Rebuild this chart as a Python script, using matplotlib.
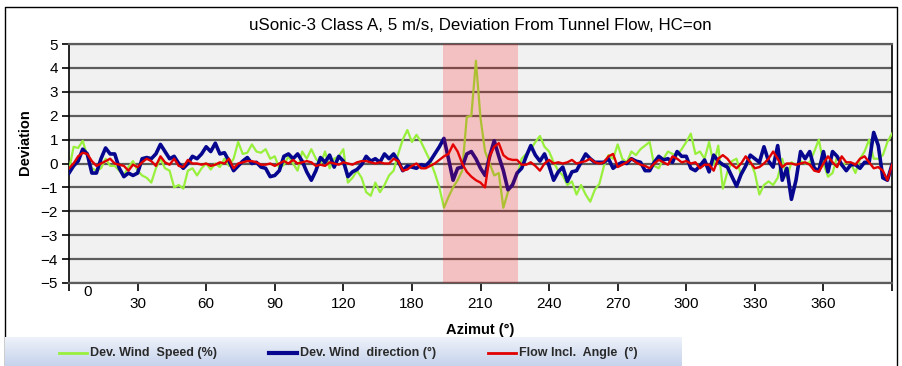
import numpy as np
import matplotlib.pyplot as plt
from matplotlib.lines import Line2D

plt.rcParams['font.family'] = ['Liberation Sans', 'DejaVu Sans']

# azimuth positions, one sample every 2 degrees
azimuth = list(range(0, 361, 2))

# Dev. Wind Speed (%)
wind_speed = [
    -0.3, 0.7, 0.65, 0.95, 0.3, -0.2, -0.3, -0.2, 0.2, -0.1, -0.1, -0.3, -0.5, -0.15, 0.1,
    -0.3, -0.5, -0.6, -0.8, -0.2, 0.2, -0.2, -0.3, -1.0, -0.9, -1.05, -0.3, -0.2, -0.5, -0.2,
    0.0, -0.25, 0.0, -0.15, 0.2, -0.1, 0.2, 0.9, 0.4, 0.45, 0.8, 0.5, 0.45, 0.6, 0.2,
    0.3, -0.2, -0.05, 0.3, 0.0, -0.3, 0.5, 0.2, 0.6, 0.2, -0.05, 0.5, -0.2, 0.2, 0.3,
    0.6, -0.8, -0.6, -0.3, -0.6, -1.2, -1.35, -0.8, -1.2, -0.9, -0.5, -0.3, 0.4, 1.0, 1.4,
    0.9, 1.2, 0.9, 0.5, 0.1, -0.4, -1.0, -1.85, -1.4, -1.0, -0.7, -0.3, 1.95, 2.0, 4.3,
    1.9, 0.5, 0.0, -0.5, -0.4, -1.85, -1.2, -0.8, -0.5, 0.2, 0.4, 0.6, 0.9, 1.15, 0.7,
    0.5, 0.05, -0.3, -0.5, -0.9, -0.75, -1.3, -0.9, -1.3, -1.6, -1.1, -0.85, -0.1, 0.35, 0.2,
    0.8, 0.2, 0.05, 0.5, 0.35, 0.6, 0.75, 0.9, -0.1, -0.2, 0.2, 0.5, 0.4, 0.35, 0.6,
    0.9, 1.25, 0.4, 0.5, 0.2, 0.9, -0.05, 0.75, -1.05, -0.35, 0.1, 0.2, -0.5, -0.1, 0.1,
    -0.4, -1.3, -0.9, -0.75, -0.9, -0.6, 0.2, -0.6, 0.05, -0.05, 0.1, 0.0, 0.05, 0.5, 1.0,
    0.0, -0.55, -0.4, 0.3, -0.1, 0.05, 0.0, -0.4, 0.2, 0.5, 1.0, 0.2, 0.2, 0.35, 0.9,
    1.25,
]

# Dev. Wind direction (deg)
wind_dir = [
    -0.4, -0.1, 0.1, 0.6, 0.4, -0.4, -0.4, 0.2, 0.65, 0.4, 0.4, -0.2, -0.55, -0.4, -0.5,
    -0.4, 0.2, 0.25, 0.2, 0.4, 0.8, 0.5, 0.2, 0.3, 0.0, -0.2, 0.0, 0.3, 0.2, 0.4,
    0.7, 0.5, 0.85, 0.4, 0.45, 0.1, -0.3, -0.1, 0.1, 0.25, 0.0, 0.05, -0.15, -0.2, -0.55,
    -0.5, -0.3, 0.3, 0.4, 0.2, 0.4, 0.1, -0.35, -0.7, -0.3, 0.25, 0.05, 0.35, -0.15, 0.3,
    0.1, -0.55, -0.35, -0.25, -0.05, 0.3, 0.1, 0.2, 0.05, 0.4, 0.2, 0.4, 0.1, -0.3, -0.1,
    -0.15, -0.2, -0.05, -0.1, 0.1, 0.4, 0.7, 1.05, 0.2, -0.7, -0.2, -0.15, 0.4, 0.5, 0.2,
    -0.2, -0.5, 0.3, 0.95, 0.3, -0.3, -1.1, -0.9, -0.4, -0.2, 0.3, 0.75, 0.35, 0.1, 0.4,
    -0.1, -0.7, -0.35, -0.15, -0.75, -0.35, -0.3, 0.05, 0.4, 0.2, 0.05, 0.05, 0.05, 0.2, -0.2,
    -0.05, 0.05, 0.0, 0.2, 0.1, 0.05, -0.3, -0.3, 0.05, 0.3, 0.15, 0.2, 0.05, 0.5, 0.3,
    0.3, -0.2, -0.3, -0.1, 0.15, -0.35, 0.35, 0.1, -0.05, -0.15, -0.55, -0.95, -0.45, -0.1, 0.35,
    0.2, 0.05, 0.7, 0.1, -0.15, 0.75, -0.7, -0.2, -1.5, -0.7, 0.5, 0.2, 0.5, -0.2, -0.3,
    0.5, -0.35, 0.5, 0.3, -0.05, -0.3, -0.05, -0.05, -0.2, 0.05, 0.05, 1.3, 0.75, -0.6, -0.7,
    -0.05,
]

# Flow Incl. Angle (deg)
flow_angle = [
    -0.2, 0.0, 0.3, 0.45, 0.4, 0.1, -0.1, 0.0, 0.1, 0.2, 0.0, -0.05, -0.1, -0.3, -0.05,
    -0.15, 0.05, 0.2, 0.1, -0.1, 0.3, 0.05, -0.05, 0.2, -0.1, -0.15, 0.15, 0.0, 0.0, -0.05,
    0.0, -0.1, -0.05, 0.05, 0.0, 0.2, -0.2, 0.0, 0.05, 0.1, 0.1, 0.05, -0.05, -0.05, 0.0,
    -0.1, 0.0, 0.1, 0.0, 0.15, 0.0, 0.05, 0.1, 0.05, -0.1, -0.05, -0.1, 0.05, 0.0, -0.05,
    0.05, 0.0, -0.05, 0.05, 0.1, 0.1, 0.05, 0.0, 0.05, 0.0, 0.0, 0.2, 0.1, -0.3, -0.25,
    -0.1, 0.0, -0.2, -0.2, -0.1, 0.0, 0.15, 0.3, 0.4, 0.8, 0.5, 0.0, -0.35, -0.55, -0.7,
    -0.8, -1.0, 0.3, 0.7, 0.85, 0.35, 0.2, 0.15, 0.15, -0.05, -0.05, 0.05, -0.1, -0.3, 0.0,
    0.15, 0.0, 0.05, 0.0, 0.05, 0.15, 0.0, 0.05, 0.1, 0.2, 0.05, 0.0, 0.05, 0.3, 0.4,
    -0.15, -0.05, 0.05, 0.2, 0.05, -0.05, -0.1, -0.2, 0.0, 0.15, 0.05, -0.05, 0.3, 0.2, 0.05,
    0.1, 0.0, 0.05, -0.2, -0.05, -0.05, -0.3, 0.2, 0.35, 0.2, -0.05, -0.2, 0.0, 0.3, 0.05,
    -0.2, -0.15, 0.0, 0.2, 0.5, 0.2, -0.15, 0.0, 0.0, -0.05, 0.0, 0.05, -0.05, -0.3, -0.35,
    0.0, 0.3, 0.05, -0.15, 0.3, 0.05, 0.05, -0.05, 0.2, 0.3, 0.05, -0.2, -0.15, -0.3, -0.7,
    -0.05,
]

# highlighted azimuth band
band = (163.6, 196.4)

xtick_pos = list(range(0, 361, 30))
xtick_labels = ['', '30', '60', '90', '120', '180', '210', '240', '270', '300', '330', '360', '']

W, H = 903, 366
fig = plt.figure(figsize=(W / 100, H / 100), dpi=100)
fig.patch.set_facecolor('white')

# outer chart frame
frame = fig.add_axes([0, 0, 1, 1], zorder=-5)
frame.set_xlim(0, W)
frame.set_ylim(H, 0)
frame.axis('off')
frame.plot([5, 5, 897, 897], [366, 7, 7, 366], color='black', lw=1.0)

ax = fig.add_axes([69 / W, 1 - 283 / H, (892 - 69) / W, (283 - 44) / H])
ax.set_facecolor('#f1f1f1')

ax.plot(azimuth, wind_speed, color='#98f03c', lw=1.6, zorder=3)
ax.plot(azimuth, wind_dir, color='#06068f', lw=2.6, zorder=4)
ax.plot(azimuth, flow_angle, color='#e00000', lw=1.7, zorder=5)
ax.axvspan(band[0], band[1], color='#ff1010', alpha=0.21, lw=0, zorder=6)

ax.set_xlim(0, 360)
ax.set_ylim(-5, 5)
ax.set_yticks(range(-5, 6))
ax.set_xticks(xtick_pos)
ax.set_xticklabels(xtick_labels)
ax.set_axisbelow(True)
ax.grid(axis='y', color='#5c5c5c', lw=1.6)
ax.grid(axis='x', visible=False)

for side in ['left', 'right']:
    ax.spines[side].set_color('black')
    ax.spines[side].set_linewidth(1.2)
for side in ['top', 'bottom']:
    ax.spines[side].set_color('#5c5c5c')
    ax.spines[side].set_linewidth(1.6)

ax.tick_params(axis='y', length=5, width=1.2, color='black', labelsize=11, pad=3)
ax.tick_params(axis='x', length=6, width=1.2, color='black', labelsize=11, pad=4)

fig.text(88 / W, 1 - 292 / H, '0', ha='center', va='center', fontsize=11)

fig.text(480 / W, 1 - 25 / H, 'uSonic-3 Class A, 5 m/s, Deviation From Tunnel Flow, HC=on',
         ha='center', va='center', fontsize=12.2)
fig.text(25 / W, 1 - 142 / H, 'Deviation', rotation=90, ha='center', va='center',
         fontsize=10.5, fontweight='bold')
fig.text(480 / W, 1 - 330 / H, 'Azimut (°)', ha='center', va='center',
         fontsize=10.5, fontweight='bold')

# legend band with a soft blue gradient
leg = fig.add_axes([5 / W, 0, (682 - 5) / W, (366 - 337) / H], zorder=2)
grad = np.linspace(0, 1, 50).reshape(-1, 1)
leg.imshow(grad, aspect='auto', cmap=plt.matplotlib.colors.LinearSegmentedColormap.from_list(
    'band', ['#eef2fa', '#c6d3ec']), extent=[5, 682, 366, 337])
leg.set_xlim(5, 682)
leg.set_ylim(366, 337)
leg.axis('off')

entries = [
    ('Dev. Wind  Speed (%)', '#98f03c', 2.0, 59),
    ('Dev. Wind  direction (°)', '#06068f', 3.0, 269),
    ('Flow Incl.  Angle  (°)', '#e00000', 2.0, 488),
]
for label, col, lw, x0 in entries:
    leg.add_line(Line2D([x0, x0 + 28], [352.5, 352.5], color=col, lw=lw))
    leg.text(x0 + 31, 353, label, ha='left', va='center', fontsize=9,
             fontweight='bold', color='#2a2a2a')

fig.savefig('out.png', dpi=100)
